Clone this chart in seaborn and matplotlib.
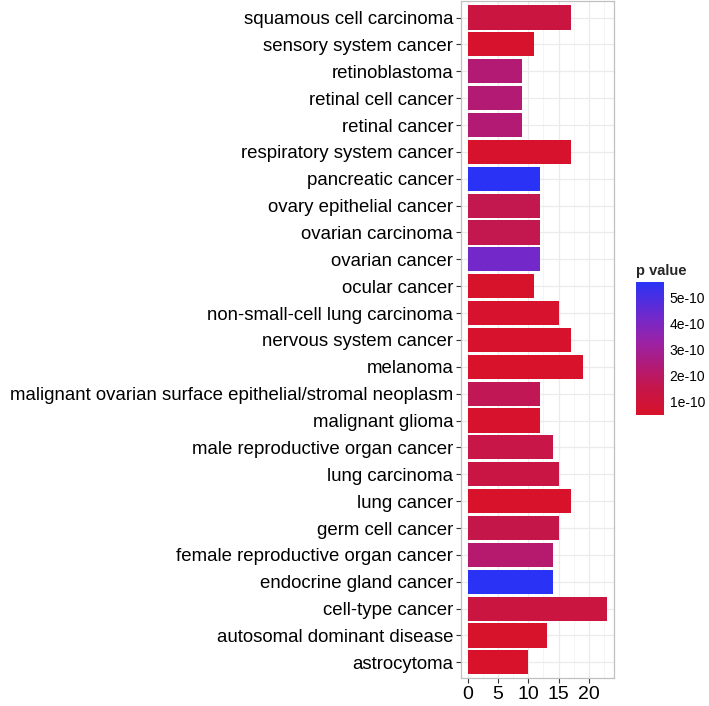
import numpy as np
import pandas as pd
import matplotlib
matplotlib.use("Agg")
from matplotlib import pyplot as plt
from matplotlib.colors import LinearSegmentedColormap, Normalize
from matplotlib.cm import ScalarMappable
from matplotlib.ticker import MultipleLocator
import seaborn as sns

terms = [
    "squamous cell carcinoma",
    "sensory system cancer",
    "retinoblastoma",
    "retinal cell cancer",
    "retinal cancer",
    "respiratory system cancer",
    "pancreatic cancer",
    "ovary epithelial cancer",
    "ovarian carcinoma",
    "ovarian cancer",
    "ocular cancer",
    "non-small-cell lung carcinoma",
    "nervous system cancer",
    "melanoma",
    "malignant ovarian surface epithelial/stromal neoplasm",
    "malignant glioma",
    "male reproductive organ cancer",
    "lung carcinoma",
    "lung cancer",
    "germ cell cancer",
    "female reproductive organ cancer",
    "endocrine gland cancer",
    "cell-type cancer",
    "autosomal dominant disease",
    "astrocytoma",
]
counts = [17, 11, 9, 9, 9, 17, 12, 12, 12, 12, 11, 15, 17, 19, 12,
          12, 14, 15, 17, 15, 14, 14, 23, 13, 10]
pvalues = [1.2e-10, 5.5e-11, 2.3e-10, 2.3e-10, 2.3e-10, 5.5e-11, 5.6e-10,
           1.6e-10, 1.6e-10, 4.2e-10, 5.2e-11, 6.0e-11, 5.5e-11, 5.0e-11,
           1.7e-10, 5.5e-11, 1.4e-10, 1.3e-10, 5.0e-11, 1.5e-10, 2.2e-10,
           5.6e-10, 1.2e-10, 5.3e-11, 4.7e-11]

df = pd.DataFrame({"term": terms, "count": counts, "p": pvalues})

# red (low) -> blue (high), roughly as in the ggplot gradient
cmap = LinearSegmentedColormap.from_list(
    "pval",
    [(0.0, "#d8122a"), (0.2, "#c5164a"), (0.35, "#b41a72"),
     (0.55, "#9a22a6"), (0.72, "#7628c8"), (1.0, "#2a33f5")],
)
norm = Normalize(vmin=min(pvalues), vmax=max(pvalues))
palette = {t: cmap(norm(p)) for t, p in zip(terms, pvalues)}

sns.set_theme(style="white")
plt.rcParams["font.family"] = ["Liberation Sans", "DejaVu Sans"]

fig = plt.figure(figsize=(7.09, 7.06), dpi=100)
ax = fig.add_axes([0.650, 0.039, 0.216, 0.959])

sns.barplot(
    data=df,
    x="count",
    y="term",
    hue="term",
    palette=palette,
    saturation=1,
    order=terms,
    dodge=False,
    legend=False,
    width=0.9,
    edgecolor="none",
    ax=ax,
)

ax.set_xlim(-1.15, 24.15)
ax.set_ylim(len(terms) - 0.4, -0.6)
ax.xaxis.set_major_locator(MultipleLocator(5))
ax.xaxis.set_minor_locator(MultipleLocator(2.5))
ax.grid(True, which="major", color="#ebebeb", linewidth=0.9)
ax.grid(True, which="minor", axis="x", color="#f3f3f3", linewidth=0.6)
ax.set_axisbelow(True)
for s in ax.spines.values():
    s.set_color("#c0c0c0")
    s.set_linewidth(0.9)
ax.set_xlabel("")
ax.set_ylabel("")
ax.tick_params(axis="both", which="major", length=3.5, width=0.8,
               color="#333333", labelsize=13.4, labelcolor="black", pad=2)
ax.tick_params(axis="x", which="minor", length=0)
ax.tick_params(left=True, bottom=True)
ax.tick_params(axis="x", labelsize=14)

cax = fig.add_axes([0.897, 0.4122, 0.0395, 0.1884])
cb = fig.colorbar(ScalarMappable(norm=norm, cmap=cmap), cax=cax)
cb.outline.set_visible(False)
cb.set_ticks([1e-10, 2e-10, 3e-10, 4e-10, 5e-10])
cb.set_ticklabels(["1e-10", "2e-10", "3e-10", "4e-10", "5e-10"])
cax.tick_params(direction="in", left=True, right=True, color="#f4c4e0",
                length=5, width=0.8, labelsize=10, labelcolor="black", pad=4)
cax.set_title("p value", fontsize=10.5, fontweight="bold", loc="left",
              pad=5)

fig.savefig("out.png", dpi=100)
